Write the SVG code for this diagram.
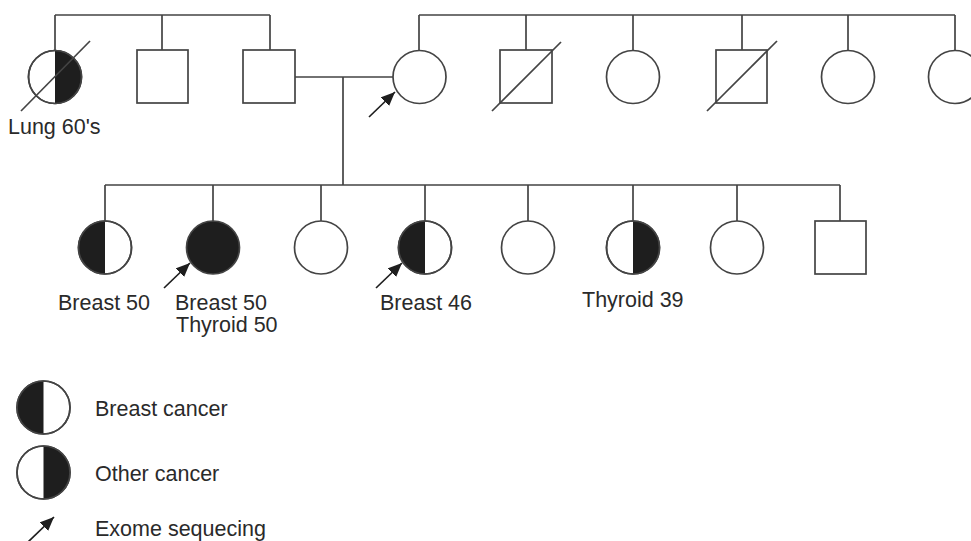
<svg xmlns="http://www.w3.org/2000/svg" width="971" height="541" viewBox="0 0 971 541">
<defs>
<marker id="ah" viewBox="0 0 14 12" refX="14" refY="6" markerWidth="14" markerHeight="12" markerUnits="userSpaceOnUse" orient="auto">
<path d="M0,0 L14,6 L0,12 Z" fill="#1e1e1e"/>
</marker>
<style>
.ln{stroke:#444;stroke-width:1.7;fill:none}
.sym{stroke:#444;stroke-width:1.7;fill:#fff}
.blk{fill:#1e1e1e;stroke:none}
.arr{stroke:#1e1e1e;stroke-width:1.7;fill:none;marker-end:url(#ah)}
.t{font-family:"Liberation Sans",Arial,sans-serif;font-size:21.5px;fill:#2a2a2a}
</style>
</defs>
<rect width="971" height="541" fill="#fff"/>
<g id="connectors">
<path class="ln" d="M55,15 H270 M55,15 V50 M162,15 V50 M270,15 V50"/>
<path class="ln" d="M419,15 H955 M419,15 V50 M526,15 V50 M633,15 V50 M742,15 V50 M848,15 V50 M955,15 V50"/>
<path class="ln" d="M295,77 H393 M343,77 V185"/>
<path class="ln" d="M105,185 H840 M105,185 V221 M213,185 V221 M321,185 V221 M425,185 V221 M528,185 V221 M633,185 V221 M737,185 V221 M840,185 V221"/>
</g>
<g id="g1-f1">
<circle class="sym" cx="55" cy="77" r="26.5"/>
<path class="blk" d="M55,50.5 A26.5,26.5 0 0 1 55,103.5 Z"/>
<circle class="ln" cx="55" cy="77" r="26.5"/>
<line class="ln" x1="21" y1="111" x2="90" y2="41"/>
<text class="t" x="8" y="134">Lung 60's</text>
</g>
<g id="g1-m2"><rect class="sym" x="137" y="50" width="51" height="53"/></g>
<g id="g1-m3"><rect class="sym" x="243" y="50" width="52" height="53"/></g>
<g id="g1-f4">
<circle class="sym" cx="419.5" cy="77" r="26.5"/>
<line class="arr" x1="369" y1="117" x2="395" y2="92"/>
</g>
<g id="g1-m5">
<rect class="sym" x="500" y="50" width="52" height="53"/>
<line class="ln" x1="492" y1="111" x2="561" y2="42"/>
</g>
<g id="g1-f6"><circle class="sym" cx="633" cy="77" r="26.5"/></g>
<g id="g1-m7">
<rect class="sym" x="716" y="50" width="51" height="53"/>
<line class="ln" x1="707" y1="111" x2="777" y2="41"/>
</g>
<g id="g1-f8"><circle class="sym" cx="848" cy="77" r="26.5"/></g>
<g id="g1-f9"><circle class="sym" cx="955" cy="77" r="26.5"/></g>
<g id="g2-f1">
<circle class="sym" cx="105" cy="247.5" r="26.5"/>
<path class="blk" d="M105,221 A26.5,26.5 0 0 0 105,274 Z"/>
<circle class="ln" cx="105" cy="247.5" r="26.5"/>
<text class="t" x="58" y="310">Breast 50</text>
</g>
<g id="g2-f2">
<circle cx="213" cy="247.5" r="26.5" fill="#1e1e1e" stroke="#444" stroke-width="1.7"/>
<line class="arr" x1="164" y1="288" x2="190" y2="263"/>
<text class="t" x="175" y="310">Breast 50</text>
<text class="t" x="176" y="332">Thyroid 50</text>
</g>
<g id="g2-f3"><circle class="sym" cx="321" cy="247.5" r="26.5"/></g>
<g id="g2-f4">
<circle class="sym" cx="425" cy="247.5" r="26.5"/>
<path class="blk" d="M425,221 A26.5,26.5 0 0 0 425,274 Z"/>
<circle class="ln" cx="425" cy="247.5" r="26.5"/>
<line class="arr" x1="376" y1="288" x2="402" y2="263"/>
<text class="t" x="380" y="310">Breast 46</text>
</g>
<g id="g2-f5"><circle class="sym" cx="528" cy="247.5" r="26.5"/></g>
<g id="g2-f6">
<circle class="sym" cx="633" cy="247.5" r="26.5"/>
<path class="blk" d="M633,221 A26.5,26.5 0 0 1 633,274 Z"/>
<circle class="ln" cx="633" cy="247.5" r="26.5"/>
<text class="t" x="582" y="307">Thyroid 39</text>
</g>
<g id="g2-f7"><circle class="sym" cx="737" cy="247.5" r="26.5"/></g>
<g id="g2-m8"><rect class="sym" x="815" y="221" width="51" height="53"/></g>
<g id="legend">
<circle class="sym" cx="43.5" cy="407.5" r="26.5"/>
<path class="blk" d="M43.5,381 A26.5,26.5 0 0 0 43.5,434 Z"/>
<circle class="ln" cx="43.5" cy="407.5" r="26.5"/>
<text class="t" x="95" y="416">Breast cancer</text>
<circle class="sym" cx="43.5" cy="472.5" r="26.5"/>
<path class="blk" d="M43.5,446 A26.5,26.5 0 0 1 43.5,499 Z"/>
<circle class="ln" cx="43.5" cy="472.5" r="26.5"/>
<text class="t" x="95" y="481">Other cancer</text>
<line class="arr" x1="28" y1="542" x2="54" y2="517"/>
<text class="t" x="95" y="536">Exome sequecing</text>
</g>
</svg>
